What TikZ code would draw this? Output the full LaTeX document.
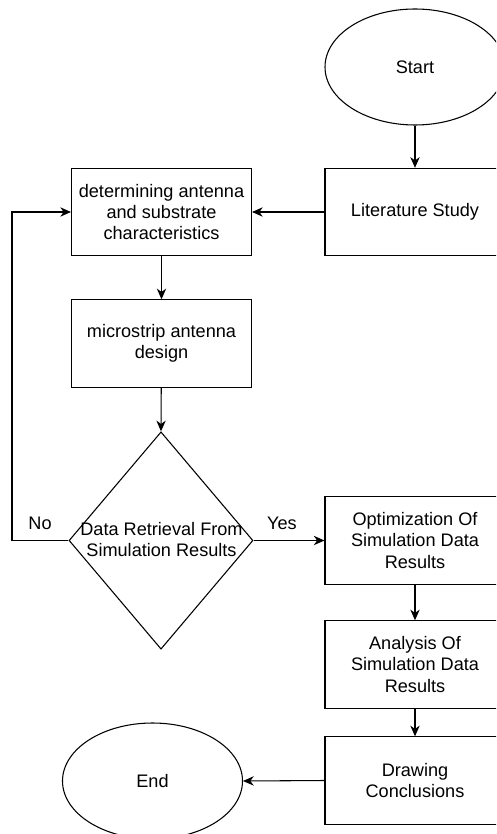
\documentclass[tikz,border=0pt]{standalone}
\usepackage{fontspec}
\setmainfont{Liberation Sans}
\usetikzlibrary{shapes.geometric,arrows.meta}
\begin{document}
\begin{tikzpicture}[x=0.75pt,y=-0.75pt, font=\fontsize{13.6}{15.8}\selectfont,
 box/.style={draw, line width=0.8pt, minimum width=135pt, minimum height=65.5pt, align=center, inner sep=0pt},
 term/.style={ellipse, draw, line width=0.8pt, minimum width=135pt, minimum height=87pt, inner sep=0pt},
 conn/.style={line width=0.8pt, -{Stealth[length=8pt,width=7pt,inset=2.5pt]}},
 lbl/.style={inner sep=0pt}]
\useasboundingbox (0,0) rectangle (496,834);
\clip (0,0) rectangle (496,834);
\node[term] (start) at (415,67) {Start};
\node[box] (lit) at (415,212) {Literature Study};
\node[box] (det) at (161.5,212) {determining antenna\\and substrate\\characteristics};
\node[box] (mic) at (161.5,343.5) {microstrip antenna\\design};
\node[diamond, draw, line width=0.8pt, minimum width=138pt, minimum height=163pt, inner sep=0pt] (dec) at (161,540.5) {};
\node[align=center, inner sep=0pt] (dectext) at (161.5,539.5) {Data Retrieval From\\Simulation Results};
\node[box] (opt) at (415,540.5) {Optimization Of\\Simulation Data\\Results};
\node[box] (ana) at (415,664.5) {Analysis Of\\Simulation Data\\Results};
\node[box] (drw) at (415,780.5) {Drawing\\Conclusions};
\node[term] (end) at (152.5,781) {End};
\coordinate (nocorner) at (12,540.5);
\coordinate (notop) at (12,212);
\draw[conn] (start) -- (lit);
\draw[conn] (lit) -- (det);
\draw[conn] (det) -- (mic);
\draw[conn] (mic) -- (dec.north);
\draw[conn] (dec.west) -- (nocorner) -- (notop) -- (det.west);
\draw[conn] (dec.east) -- (opt.west);
\draw[conn] (opt) -- (ana);
\draw[conn] (ana) -- (drw);
\draw[conn] (drw.west) -- (end.east);
\node[lbl] (no) at (40,523) {No};
\node[lbl] (yes) at (282,523) {Yes};
\end{tikzpicture}
\end{document}
